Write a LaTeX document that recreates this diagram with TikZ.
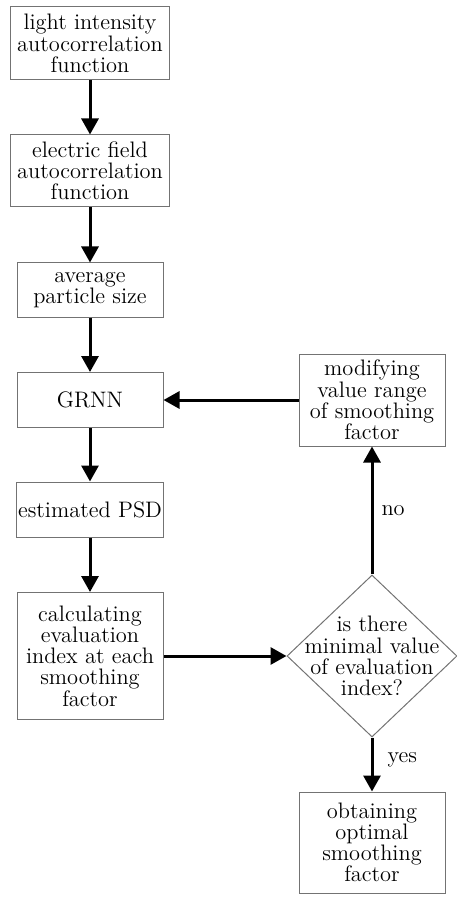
\documentclass[tikz,border=0pt]{standalone}
\usepackage{tikz}
\usetikzlibrary{arrows.meta, shapes.geometric}

\begin{document}
\begin{tikzpicture}[x=0.5pt, y=-0.5pt,
    every node/.style={font=\fontsize{11.2}{10.6}\selectfont},
    box/.style={draw=black!55, line width=0.5pt, align=center, inner sep=1pt, minimum width=73pt},
    flow/.style={line width=1.5pt, -{Triangle[width=8.5pt, length=8pt]}}]
    \useasboundingbox (0, 0) rectangle (456, 903);
    \node[box, minimum width=79.5pt, minimum height=36.5pt] (light) at (90, 43.5) {light intensity\\autocorrelation\\function};
    \node[box, minimum width=79.5pt, minimum height=36pt] (efield) at (90, 171) {electric field\\autocorrelation\\function};
    \node[box, minimum height=27pt] (avg) at (90, 290) {average\\particle size};
    \node[box, minimum height=27.5pt] (grnn) at (90, 400) {GRNN};
    \node[box, minimum height=27.5pt] (psd) at (90, 509.5) {estimated PSD};
    \node[box, minimum height=63.5pt] (calc) at (90, 656) {calculating\\evaluation\\index at each\\smoothing\\factor};
    \node[box, minimum height=46pt] (modify) at (372, 400) {modifying\\value range\\of smoothing\\factor};
    \node[draw=black!55, line width=0.5pt, diamond, minimum width=85pt, minimum height=81pt, inner sep=0pt] (dec) at (372, 656) {};
    \node[align=center] (dectext) at (dec) {is there\\minimal value\\of evaluation\\index?};
    \node[box, minimum height=50.5pt] (obtain) at (372, 842.5) {obtaining\\optimal\\smoothing\\factor};
    \draw[flow] (light) -- (efield);
    \draw[flow] (efield) -- (avg);
    \draw[flow] (avg) -- (grnn);
    \draw[flow] (grnn) -- (psd);
    \draw[flow] (psd) -- (calc);
    \draw[flow] (calc) -- (dec);
    \draw[flow] (dec) -- node[right=3pt, inner sep=1pt, pos=0.5] (nolabel) {no} (modify);
    \draw[flow] (modify) -- (grnn);
    \draw[flow] (dec) -- node[right=6pt, inner sep=1pt, pos=0.42] (yeslabel) {yes} (obtain);
\end{tikzpicture}
\end{document}
